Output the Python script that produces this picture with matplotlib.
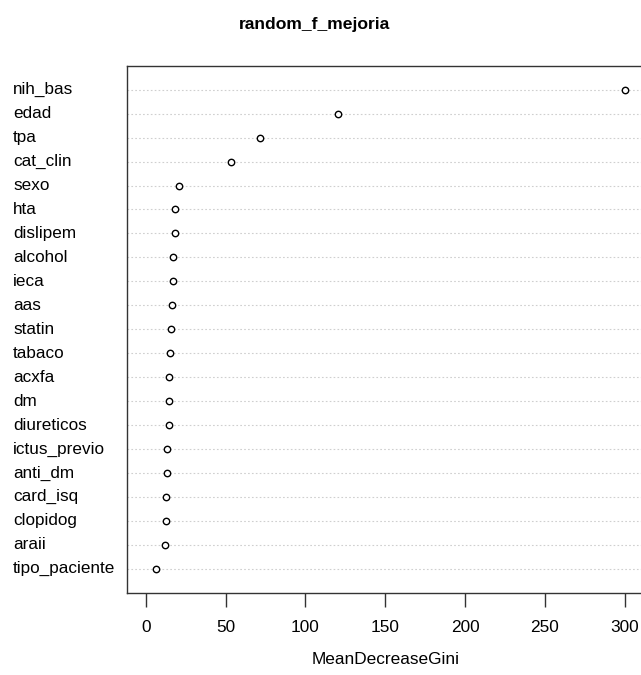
import numpy as np
import matplotlib
matplotlib.use('Agg')
import matplotlib.pyplot as plt
import matplotlib.transforms as mtransforms

plt.rcParams['font.family'] = ['Liberation Sans', 'DejaVu Sans']

# variable importance (top to bottom)
variables = ["nih_bas", "edad", "tpa", "cat_clin", "sexo", "hta", "dislipem",
             "alcohol", "ieca", "aas", "statin", "tabaco", "acxfa", "dm",
             "diureticos", "ictus_previo", "anti_dm", "card_isq", "clopidog",
             "araii", "tipo_paciente"]
gini = [300.2, 120.2, 71.3, 53.3, 20.7, 18.0, 18.0,
        17.1, 16.7, 16.3, 15.7, 15.1, 14.4, 14.4,
        14.4, 13.2, 13.2, 12.5, 12.5, 11.7, 6.3]
xticks = [0, 50, 100, 150, 200, 250, 300]

fig = plt.figure(figsize=(6.41, 6.75), dpi=100)
ax = fig.add_axes([0.1977, 0.1219, 0.8070, 0.7807])

n = len(variables)
ypos = np.arange(n, 0, -1)

for y in ypos:
    ax.axhline(y, color='#cfcfcf', linestyle=(0, (1.5, 2)), linewidth=0.8, zorder=1)

ax.plot(gini, ypos, linestyle='none', marker='o', markersize=4.6,
        markerfacecolor='white', markeredgecolor='black', markeredgewidth=1.0, zorder=3)

xmax = max(gini)
ax.set_xlim(-0.04 * xmax, 1.04 * xmax)
ax.set_ylim(0, n + 1)

ax.set_yticks([])
ax.set_xticks(xticks)
ax.set_xticklabels([str(t) for t in xticks], fontsize=12.4)
ax.tick_params(axis='x', length=10, width=1, color='#333333', pad=10)

for s in ax.spines.values():
    s.set_color('#333333')
    s.set_linewidth(1.0)

trans = mtransforms.blended_transform_factory(fig.transFigure, ax.transData)
for name, y in zip(variables, ypos):
    ax.text(13 / 641, y, name, transform=trans, ha='left', va='center',
            fontsize=12.3, clip_on=False)

fig.text(315 / 641, 1 - 25 / 675, "random_f_mejoria", ha='center', va='center',
         fontsize=12.6, fontweight='bold')
fig.text(386 / 641, 1 - 660 / 675, "MeanDecreaseGini", ha='center', va='center',
         fontsize=12.4)

fig.savefig('out.png', dpi=100)
